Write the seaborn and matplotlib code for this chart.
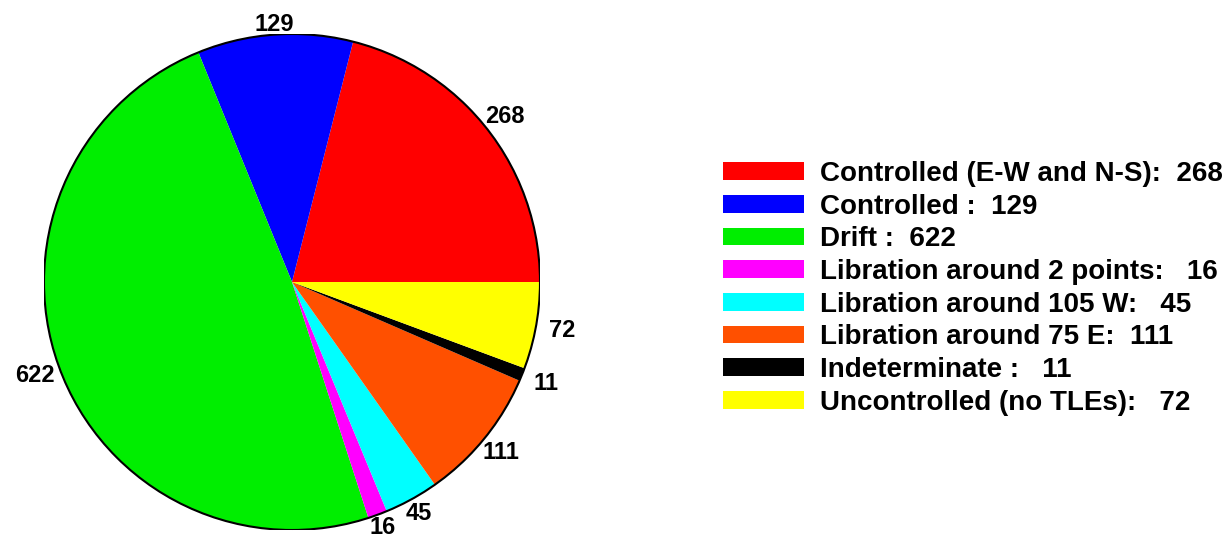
import matplotlib
matplotlib.use("Agg")
import numpy as np
import matplotlib.pyplot as plt
from matplotlib.patches import Circle, Patch
import seaborn as sns

categories = ["Controlled (E-W and N-S):  268", "Controlled :  129", "Drift :  622",
              "Libration around 2 points:   16", "Libration around 105 W:   45",
              "Libration around 75 E:  111", "Indeterminate :   11",
              "Uncontrolled (no TLEs):   72"]
values = [268, 129, 622, 16, 45, 111, 11, 72]
slice_labels = ["268", "129", "622", "16", "45", "111", "11", "72"]
colors = ["#ff0000", "#0000ff", "#00ee00", "#ff00ff", "#00ffff", "#ff5000", "#000000", "#ffff00"]

sns.set_theme(style="white")
plt.rcParams["font.family"] = ["Liberation Sans", "DejaVu Sans"]
plt.rcParams["font.weight"] = "bold"
plt.rcParams["text.color"] = "black"

fig = plt.figure(figsize=(12.29, 5.38), dpi=100)
R = 248
cx, cy = 292, 282
ax = fig.add_axes([(cx - R) / 1229, (538 - cy - R) / 538, 2 * R / 1229, 2 * R / 538])

wedges, texts = ax.pie(values, labels=slice_labels, colors=colors, startangle=0,
                       counterclock=True, radius=1, labeldistance=1.08,
                       wedgeprops=dict(linewidth=0),
                       textprops=dict(fontsize=17, fontweight="bold", color="black"))
# place labels centred just outside the rim
for w, t in zip(wedges, texts):
    mid = np.deg2rad((w.theta1 + w.theta2) / 2)
    d = 1.04 + 0.07 * abs(np.cos(mid)) ** 1.5
    t.set_position((d * np.cos(mid), d * np.sin(mid)))
    t.set_ha("center")
    t.set_va("center")

ax.add_patch(Circle((0, 0), 1, fill=False, edgecolor="black", linewidth=1.5))
ax.set_xlim(-1, 1)
ax.set_ylim(-1, 1)
ax.set_aspect("equal")
ax.axis("off")

handles = [Patch(facecolor=c, edgecolor="none") for c in colors]
fig.legend(handles, categories, loc="upper left", bbox_to_anchor=(723 / 1229, 1 - 161 / 538),
           frameon=False, handlelength=2.9, handleheight=0.6,
           handletextpad=0.6, labelspacing=0.24, borderpad=0, borderaxespad=0,
           labelcolor="black", prop=dict(weight="bold", size=20))

fig.savefig("out.png", dpi=100, facecolor="white")
